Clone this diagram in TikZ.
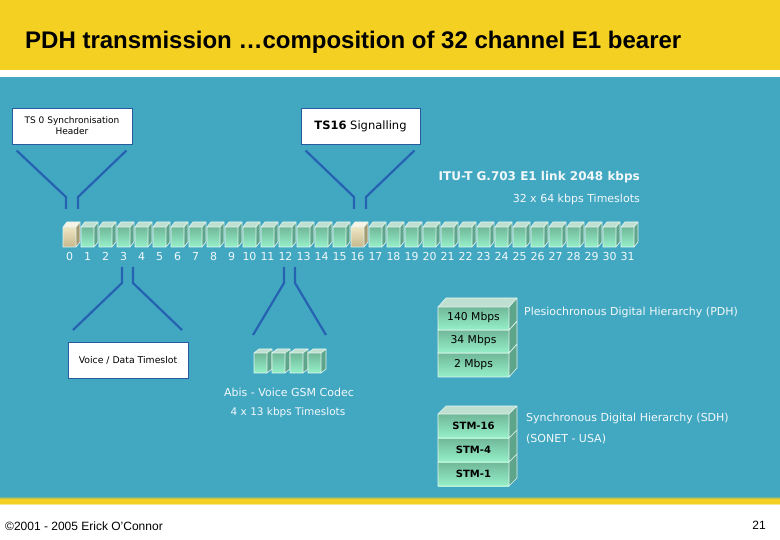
\documentclass[tikz,border=0pt]{standalone}
\usepackage{fontspec}
\setmainfont{DejaVu Sans}
\newfontfamily\arialf{Liberation Sans}
\usetikzlibrary{calc}
\definecolor{bgblue}{RGB}{66,168,194}
\definecolor{myyellow}{RGB}{244,208,34}
\definecolor{fline}{RGB}{38,98,178}
\definecolor{boxline}{RGB}{40,90,160}
\definecolor{gtop}{RGB}{112,184,152}
\definecolor{gbot}{RGB}{150,240,200}
\definecolor{gside}{RGB}{95,165,140}
\definecolor{btop}{RGB}{238,230,196}
\definecolor{bbot}{RGB}{198,184,140}
\definecolor{bside}{RGB}{165,155,115}
\definecolor{lbl}{RGB}{242,248,250}
\definecolor{edge}{RGB}{225,245,240}
\newcommand\mycube[9]{%
  \shade[top color=#7, bottom color=#8] (#1,#2) rectangle ++(#3,#4);
  \fill[#9] (#1+#3,#2) -- ++(#5,-#6) -- ++(0,#4) -- ++(-#5,#6) -- cycle;
  \fill[#7!45!white] (#1,#2) -- ++(#5,-#6) -- ++(#3,0) -- ++(-#5,#6) -- cycle;
  \draw[edge, line width=0.6] (#1,#2) rectangle ++(#3,#4)
    (#1,#2) -- ++(#5,-#6) -- ++(#3,0) -- ++(0,#4) -- ++(-#5,#6)
    (#1+#3,#2) -- ++(#5,-#6);
}
\tikzset{
  wbox/.style={draw=boxline, line width=0.9pt, fill=white, inner sep=0pt},
  funnel/.style={draw=fline, line width=2.2pt},
  numlbl/.style={text=lbl, font=\fontsize{11}{12}\selectfont, inner sep=0pt, anchor=base},
  wlbl/.style={text=lbl, inner sep=0pt},
  stacklbl/.style={text=black, font=\fontsize{10.8}{12}\selectfont, inner sep=0pt},
}
\begin{document}
\begin{tikzpicture}[x=1pt,y=-1pt]
\useasboundingbox (0,0) rectangle (780,540);
\fill[fill=white] (0,0) rectangle (780,540);
\fill[fill=myyellow] (0,0) rectangle (780,70);
\fill[fill=bgblue] (0,77) rectangle (780,496);
\shade[top color=bgblue, bottom color=myyellow] (0,496) rectangle (780,499);
\fill[fill=myyellow] (0,499) rectangle (780,503);
\shade[top color=myyellow, bottom color=white] (0,503) rectangle (780,505);

\node[anchor=west, inner sep=0pt, text=black, font=\arialf\bfseries\fontsize{24}{27}\selectfont] (title) at (25,42) {PDH transmission …composition of 32 channel E1 bearer};

% top boxes
\node[wbox, minimum width=120pt, minimum height=36pt, align=center, font=\fontsize{9}{11}\selectfont] (ts0) at (72,126) {TS 0 Synchronisation\\Header};
\node[wbox, minimum width=119pt, minimum height=36pt, font=\fontsize{11.5}{13}\selectfont] (ts16) at (360.5,126) {\textbf{TS16} Signalling};

% timeslot cubes
\foreach \i in {0,...,31}{
  \pgfmathsetmacro\xx{63+18*\i}
  \ifnum\i=0
    \mycube{\xx}{227}{13}{20}{4}{5}{btop}{bbot}{bside}
  \else\ifnum\i=16
    \mycube{\xx}{227}{13}{20}{4}{5}{btop}{bbot}{bside}
  \else
    \mycube{\xx}{227}{13}{20}{4}{5}{gtop}{gbot}{gside}
  \fi\fi
  \node[numlbl] (n\i) at (\xx+6.5,261) {\i};
}
\coordinate (c0a) at (66,209);
\coordinate (c0b) at (78,209);
\coordinate (c16a) at (354,209);
\coordinate (c16b) at (366,209);

% upper funnels
\draw[funnel] ($(ts0.south west)+(5,6)$) -- (66,197) -- (c0a);
\draw[funnel] ($(ts0.south east)+(-6,6)$) -- (78,197) -- (c0b);
\draw[funnel] ($(ts16.south west)+(5,6)$) -- (354,197) -- (c16a);
\draw[funnel] ($(ts16.south east)+(-6,6)$) -- (366,197) -- (c16b);

% link labels
\node[wlbl, anchor=east, font=\bfseries\fontsize{12}{14}\selectfont] (itu) at (640,177) {ITU-T G.703 E1 link 2048 kbps};
\node[wlbl, anchor=east, font=\fontsize{11}{12}\selectfont] (ts32) at (640,199) {32 x 64 kbps Timeslots};

% lower funnels
\coordinate (f1a) at (122,267);
\coordinate (f1b) at (133,267);
\coordinate (f2a) at (284,267);
\coordinate (f2b) at (295,267);
\node[wbox, minimum width=120pt, minimum height=36pt, font=\fontsize{9.3}{11}\selectfont] (vd) at (128,360) {Voice / Data Timeslot};
\draw[funnel] (f1a) -- (122,283) -- (73,330);
\draw[funnel] (f1b) -- (133,283) -- (182,330);
\draw[funnel] (f2a) -- (284,283) -- (253,335);
\draw[funnel] (f2b) -- (295,283) -- (326,335);

% abis cubes
\foreach \i in {0,...,3}{
  \pgfmathsetmacro\xx{254+18*\i}
  \mycube{\xx}{353}{13}{20}{5}{4}{gtop}{gbot}{gside}
}
\node[wlbl, font=\fontsize{11}{13}\selectfont] (abis) at (289,392) {Abis - Voice GSM Codec};
\node[wlbl, font=\fontsize{10.5}{12}\selectfont] (abts) at (288,413) {4 x 13 kbps Timeslots};

% PDH stack
\mycube{438}{353}{71}{24}{8}{9}{gtop}{gbot}{gside}
\mycube{438}{330}{71}{23}{8}{9}{gtop}{gbot}{gside}
\mycube{438}{307}{71}{23}{8}{9}{gtop}{gbot}{gside}
\node[stacklbl] (p140) at (473.5,318) {140 Mbps};
\node[stacklbl] (p34) at (473.5,341) {34 Mbps};
\node[stacklbl] (p2) at (473.5,365) {2 Mbps};
\node[wlbl, anchor=west, font=\fontsize{11}{12}\selectfont] (pdh) at (524,312) {Plesiochronous Digital Hierarchy (PDH)};

% SDH stack
\mycube{438}{462}{71}{24}{8}{8}{gtop}{gbot}{gside}
\mycube{438}{438}{71}{24}{8}{8}{gtop}{gbot}{gside}
\mycube{438}{414}{71}{24}{8}{8}{gtop}{gbot}{gside}
\node[stacklbl, font=\bfseries\fontsize{10}{12}\selectfont] (s16) at (473.5,426) {STM-16};
\node[stacklbl, font=\bfseries\fontsize{10}{12}\selectfont] (s4) at (473.5,450) {STM-4};
\node[stacklbl, font=\bfseries\fontsize{10}{12}\selectfont] (s1) at (473.5,474) {STM-1};
\node[wlbl, anchor=west, font=\fontsize{11}{12}\selectfont] (sdh) at (526,418) {Synchronous Digital Hierarchy (SDH)};
\node[wlbl, anchor=west, font=\fontsize{11}{12}\selectfont] (sonet) at (526,439) {(SONET - USA)};

% footer
\node[anchor=west, inner sep=0pt, font=\arialf\fontsize{12}{14}\selectfont] (copy) at (5,526) {©2001 - 2005 Erick O’Connor};
\node[anchor=east, inner sep=0pt, font=\arialf\fontsize{12}{14}\selectfont] (page) at (766,525) {21};
\end{tikzpicture}
\end{document}
